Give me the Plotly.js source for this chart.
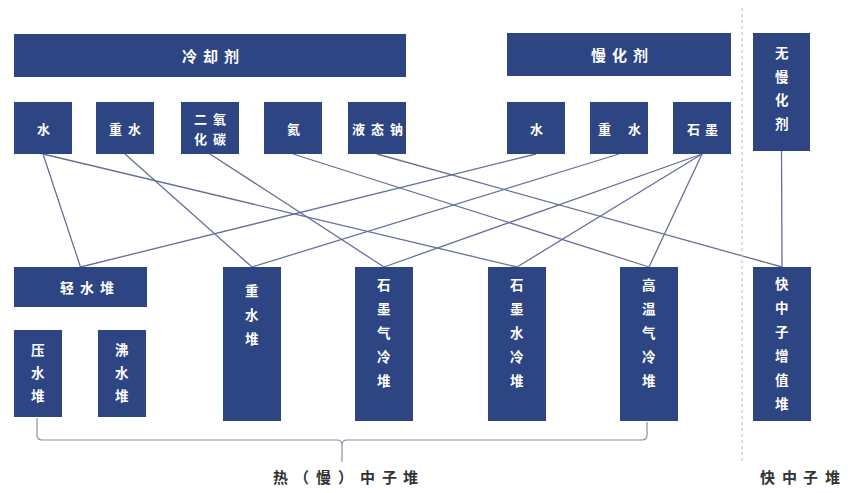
<!DOCTYPE html>
<html><head><meta charset="utf-8">
<script src="https://cdn.plot.ly/plotly-3.0.1.min.js"></script>
<style>html,body{margin:0;padding:0;background:#fff}</style>
</head><body><div id="chart" style="width:850px;height:493px"></div>
<script>
// ---------------- data ----------------
const groupTitles = ['冷却剂', '慢化剂'];
const coolants = ['水', '重水', '二氧\n化碳', '氦', '液态钠'];
const moderators = ['水', '重 水', '石墨'];
const noModerator = ['无慢化剂'];
const reactors = ['轻水堆', '重水堆', '石墨气冷堆', '石墨水冷堆', '高温气冷堆', '快中子增值堆'];
const lightWaterTypes = ['压水堆', '沸水堆'];
const reactorClasses = ['热（慢）中子堆', '快中子堆'];
// links: [source index, reactor index]
const coolantLinks = [[0,0],[0,3],[1,1],[2,2],[3,4],[4,5]];
const moderatorLinks = [[0,0],[1,1],[2,2],[2,3],[2,4]];
const noModeratorLinks = [[0,5]];

// ---------------- layout geometry ----------------
const BOX = '#2e4583', LINK = '#66709a', FONT = 'Noto Sans CJK SC';
const titleBoxes = [[14,406,34,77],[507,731,33,76]];
const coolantBoxes = [14,96,181,264,348].map(x => [x, x+58, 102, 154]);
const moderatorBoxes = [507,590,673].map(x => [x, x+58, 102, 154]);
const noModBoxes = [[753,810,33,151]];
const reactorBoxes = [[14,147,267,307],[223,281,267,421],[355,413,267,421],[488,546,267,421],[620,678,267,421],[753,811,267,421]];
const lwBoxes = [[14,62,330,417],[98,146,330,417]];
const reactorVertical = [false,true,true,true,true,true];
const reactorStart = [0,23,17,17,17,16];

const shapes = [], annotations = [];
function rect(b){ shapes.push({type:'rect', xref:'x', yref:'y', x0:b[0], x1:b[1], y0:b[2], y1:b[3], fillcolor:BOX, line:{width:0}, layer:'above'}); }
function ch(c, x, y, size, color){
  if (c === ' ') return;
  annotations.push({text:c, x:x, y:y, xref:'x', yref:'y', showarrow:false, xanchor:'center', yanchor:'middle',
    font:{family:FONT, size:size, color:color, weight:600}});
}
function hLabel(text, b, step, size, color, cyOverride, cxOff){
  const lines = text.split('\n');
  const cx = (b[0]+b[1])/2 + (cxOff||0);
  const cy = cyOverride !== undefined ? cyOverride : (b[2]+b[3])/2;
  const lh = 20;
  lines.forEach((ln, li) => {
    const chars = Array.from(ln);
    const y = cy + (li - (lines.length-1)/2) * lh;
    chars.forEach((c, i) => ch(c, cx + (i - (chars.length-1)/2) * step, y, size, color));
  });
}
function vLabel(text, b, start, step, size, color){
  const cx = (b[0]+b[1])/2;
  Array.from(text).forEach((c, i) => ch(c, cx, b[2] + start + i*step, size, color));
}

// boxes + labels
groupTitles.forEach((t,i) => { rect(titleBoxes[i]); hLabel(t, titleBoxes[i], 21, 15, '#ffffff'); });
coolants.forEach((t,i) => { rect(coolantBoxes[i]); hLabel(t, coolantBoxes[i], 19, 13, '#ffffff'); });
moderators.forEach((t,i) => { rect(moderatorBoxes[i]); hLabel(t, moderatorBoxes[i], t.includes(' ') ? 15 : 18, 13, '#ffffff'); });
noModerator.forEach((t,i) => { rect(noModBoxes[i]); vLabel(t, noModBoxes[i], 19, 23.5, 13.5, '#ffffff'); });
reactors.forEach((t,i) => {
  rect(reactorBoxes[i]);
  if (reactorVertical[i]) vLabel(t, reactorBoxes[i], reactorStart[i], 24, 13.5, '#ffffff');
  else hLabel(t, reactorBoxes[i], 20, 14, '#ffffff', undefined, 6);
});
lightWaterTypes.forEach((t,i) => { rect(lwBoxes[i]); vLabel(t, lwBoxes[i], 18.5, 23, 13.5, '#ffffff'); });

// class labels
hLabel(reactorClasses[0], [37,654,476,476], 21.8, 15, '#333333');
hLabel(reactorClasses[1], [757,843,476,476], 21.5, 15, '#333333');

// divider dotted line
shapes.push({type:'line', xref:'x', yref:'y', x0:742, x1:742, y0:8, y1:463, line:{color:'#c8c8c8', width:1.3, dash:'dot'}});
// bracket
shapes.push({type:'path', xref:'x', yref:'y', path:'M 37 418 L 37 435 Q 37 440 42 440 L 337 440 Q 342 440 342 445 L 342 462 M 342 445 Q 342 440 347 440 L 642 440 Q 647 440 647 435 L 647 422',
  line:{color:'#8b8fa3', width:1.2}});

// link lines
const lx = [], ly = [];
function link(src, dst){
  lx.push((src[0]+src[1])/2, (dst[0]+dst[1])/2, null);
  ly.push(src[3], dst[2], null);
}
coolantLinks.forEach(([s,r]) => link(coolantBoxes[s], reactorBoxes[r]));
moderatorLinks.forEach(([s,r]) => link(moderatorBoxes[s], reactorBoxes[r]));
noModeratorLinks.forEach(([s,r]) => link(noModBoxes[s], reactorBoxes[r]));

const traces = [{x:lx, y:ly, mode:'lines', line:{color:LINK, width:1.3}, hoverinfo:'skip', showlegend:false}];

Plotly.newPlot('chart', traces, {
  width:850, height:493, margin:{l:0,r:0,t:0,b:0},
  paper_bgcolor:'#ffffff', plot_bgcolor:'#ffffff',
  xaxis:{range:[0,850], visible:false, fixedrange:true},
  yaxis:{range:[493,0], visible:false, fixedrange:true},
  shapes:shapes, annotations:annotations, showlegend:false
}, {displayModeBar:false, staticPlot:true});
</script></body></html>
